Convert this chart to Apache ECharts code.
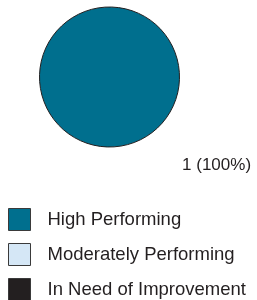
<!DOCTYPE html>
<html>
<head>
	<meta charset="utf-8">
	<script type="text/javascript" src="https://cdn.jsdelivr.net/npm/echarts@6/dist/echarts.min.js"></script>
	<style>
		html, body { margin: 0; padding: 0; background: #fff; }
	</style>
</head>
<body>

<div id="main" style="width:257px;height:300px;"></div>

<script type="text/javascript">
  // categories and values
  var categories = ['High Performing', 'Moderately Performing', 'In Need of Improvement'];
  var counts = [1, 0, 0];
  var colors = ['#006f8e', '#d5e7f6', '#231f20'];

  var myChart = echarts.init(document.getElementById('main'));

  var total = counts.reduce(function (a, b) { return a + b; }, 0);

  var pieData = categories.map(function (name, i) {
    return {
      name: name,
      value: counts[i],
      itemStyle: { color: colors[i], borderWidth: counts[i] > 0 ? 1 : 0 },
      label: { show: counts[i] > 0 }
    };
  });

  var option = {
    animation: false,
    legend: {
      orient: 'vertical',
      left: 8,
      top: 208,
      height: 200,
      padding: 0,
      icon: 'rect',
      itemWidth: 22,
      itemHeight: 22,
      itemGap: 12,
      selectedMode: false,
      itemStyle: { borderColor: '#3a3a3a', borderWidth: 1 },
      textStyle: {
        fontFamily: 'Liberation Sans, Arial, sans-serif',
        fontSize: 18.5,
        color: '#231f20',
        padding: [5, 0, 0, 12]
      },
      data: categories
    },
    series: [
      {
        name: '',
        type: 'pie',
        center: [109.5, 77],
        radius: 70,
        startAngle: 127.5,
        avoidLabelOverlap: false,
        itemStyle: { borderColor: '#231f20', borderWidth: 1 },
        label: {
          position: 'outside',
          fontFamily: 'Liberation Sans, Arial, sans-serif',
          fontSize: 17,
          color: '#231f20',
          formatter: function (p) {
            return p.value + ' (' + Math.round(p.value / total * 100) + '%)';
          }
        },
        labelLine: { show: false, length: 41, length2: 0 },
        emphasis: { disabled: true },
        data: pieData
      }
    ]
  };
  myChart.setOption(option);
</script>
</body>
</html>
